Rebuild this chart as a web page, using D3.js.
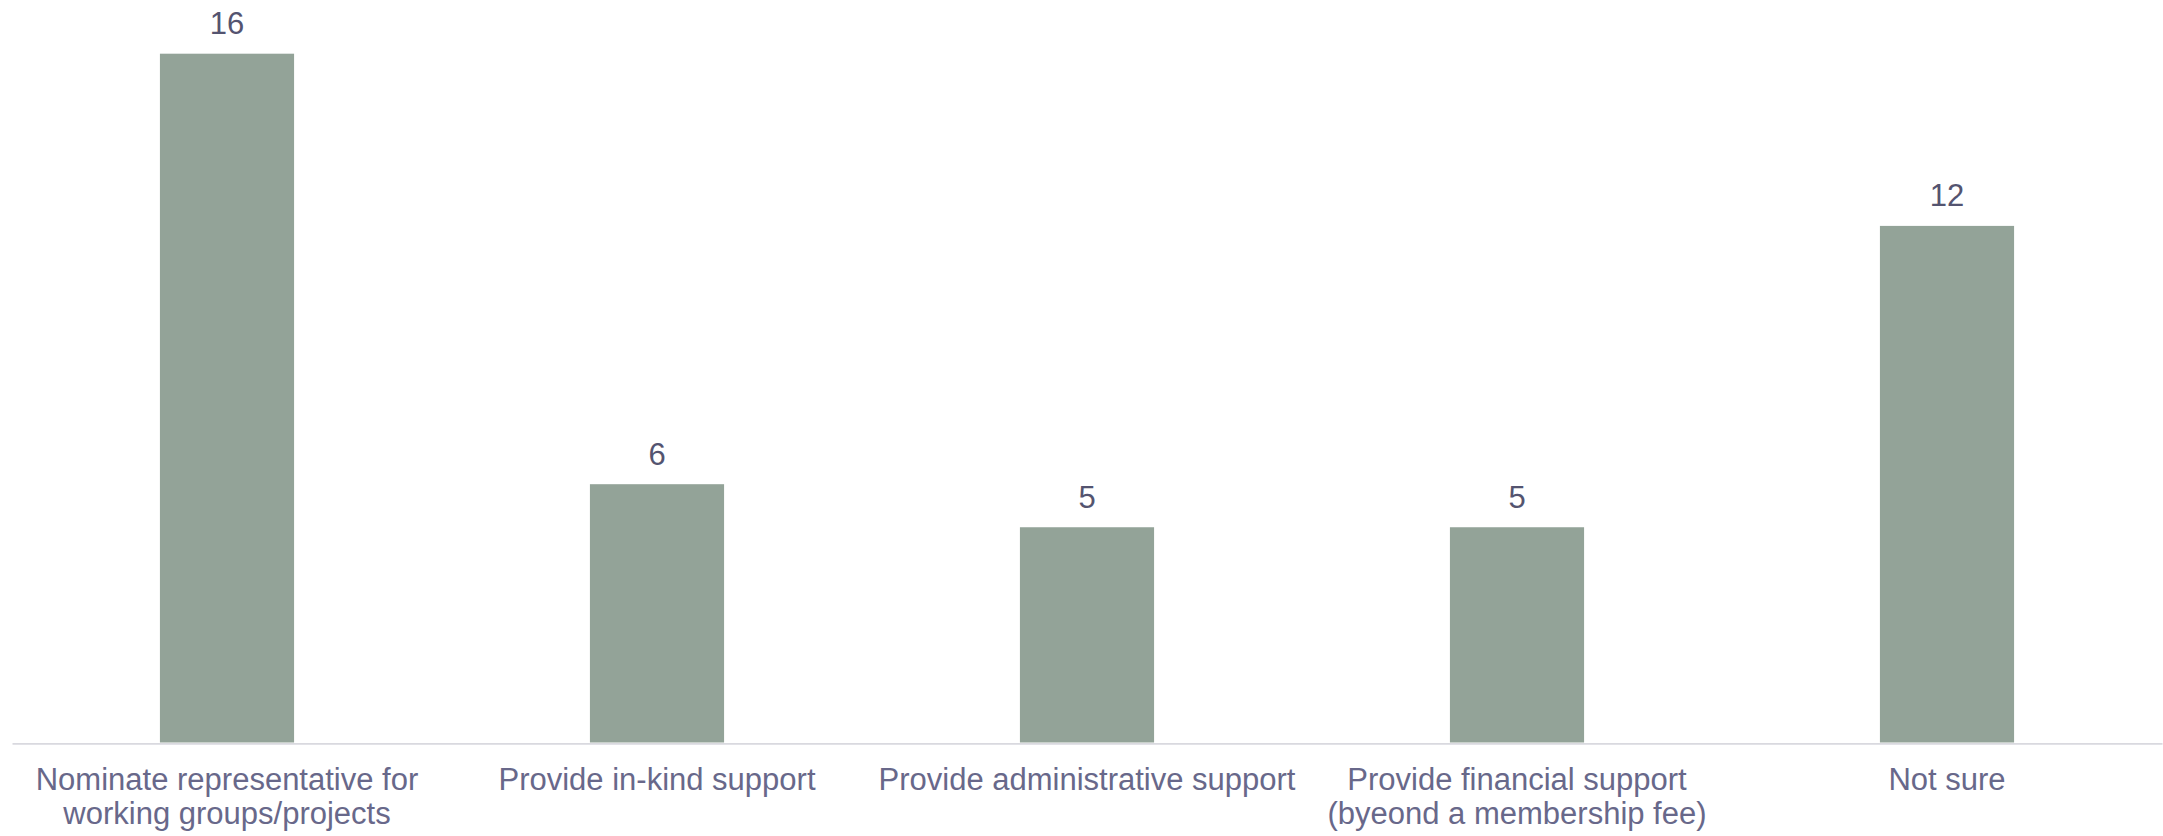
<!DOCTYPE html>
<html>
<head>
<meta charset="utf-8">
<script src="https://cdn.jsdelivr.net/npm/d3@7"></script>
<style>
  html, body { margin: 0; padding: 0; background: #ffffff; }
  svg { display: block; }
  text { font-family: "Liberation Sans", Arial, sans-serif; }
</style>
</head>
<body>
<svg id="chart" width="2163" height="836"></svg>
<script>
// Survey responses: ways members could contribute
const categories = [
  "Nominate representative for working groups/projects",
  "Provide in-kind support",
  "Provide administrative support",
  "Provide financial support (byeond a membership fee)",
  "Not sure"
];
const categoryLines = [
  ["Nominate representative for", "working groups/projects"],
  ["Provide in-kind support"],
  ["Provide administrative support"],
  ["Provide financial support", "(byeond a membership fee)"],
  ["Not sure"]
];
const counts = [16, 6, 5, 5, 12];

const width = 2163, height = 836;
const margin = { left: 12, right: 1, top: 53.7, bottom: 93.5 };
const baseY = height - margin.bottom;

const svg = d3.select("#chart");

const x = d3.scaleBand()
  .domain(categories)
  .range([margin.left, width - margin.right])
  .paddingInner(0.688)
  .paddingOuter(0.344);

const y = d3.scaleLinear()
  .domain([0, d3.max(counts)])
  .range([baseY, margin.top]);

const data = categories.map((c, i) => ({ cat: c, value: counts[i], lines: categoryLines[i] }));

// bars
svg.append("g")
  .selectAll("rect")
  .data(data)
  .join("rect")
  .attr("x", d => x(d.cat))
  .attr("y", d => y(d.value))
  .attr("width", x.bandwidth())
  .attr("height", d => y(0) - y(d.value))
  .attr("fill", "#93a398");

// value labels
svg.append("g")
  .selectAll("text")
  .data(data)
  .join("text")
  .attr("x", d => x(d.cat) + x.bandwidth() / 2)
  .attr("y", d => y(d.value) - 19.5)
  .attr("text-anchor", "middle")
  .attr("font-size", 31)
  .attr("fill", "#545470")
  .text(d => d.value);

// category axis
const axis = svg.append("g")
  .attr("transform", `translate(0,${baseY + 0.8})`)
  .call(d3.axisBottom(x).tickSize(0).tickFormat(""));

axis.select(".domain")
  .attr("stroke", "#d9d9df")
  .attr("stroke-width", 1.8);

axis.selectAll(".tick").each(function(d, i) {
  const t = d3.select(this).append("text")
    .attr("text-anchor", "middle")
    .attr("font-size", 31)
    .attr("fill", "#68688a")
    .attr("y", 47);
  categoryLines[i].forEach((line, j) => {
    t.append("tspan")
      .attr("x", 0)
      .attr("dy", j === 0 ? 0 : 34)
      .text(line);
  });
});
</script>
</body>
</html>
